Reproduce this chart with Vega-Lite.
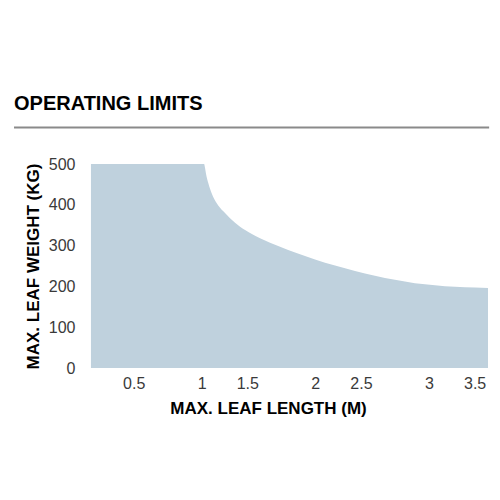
{
  "$schema": "https://vega.github.io/schema/vega-lite/v6.json",
  "description": "Operating limits: max leaf weight by max leaf length",
  "autosize": "none",
  "width": 400,
  "height": 204,
  "padding": {"left": 88, "top": 164, "right": 12, "bottom": 132},
  "background": "white",
  "view": {"stroke": null},
  "config": {
    "font": "Liberation Sans",
    "axis": {
      "grid": false,
      "domain": false,
      "ticks": false,
      "tickSize": 0,
      "labelFont": "Liberation Sans",
      "labelFontSize": 16,
      "labelColor": "#3a3a3a",
      "titleFont": "Liberation Sans",
      "titleFontSize": 17,
      "titleFontWeight": "bold",
      "titleColor": "#000000"
    }
  },
  "title": {
    "text": "OPERATING LIMITS",
    "anchor": "start",
    "frame": "group",
    "dx": -74,
    "offset": 12,
    "font": "Liberation Sans",
    "fontSize": 20,
    "fontWeight": "bold",
    "color": "#000000"
  },
  "layer": [
    {
      "data": {
        "values": [
          {"length": 0.026, "weight": 500},
          {"length": 0.5, "weight": 500},
          {"length": 1.0, "weight": 500},
          {"length": 1.022, "weight": 500},
          {"length": 1.03, "weight": 490},
          {"length": 1.038, "weight": 477},
          {"length": 1.059, "weight": 453},
          {"length": 1.089, "weight": 428},
          {"length": 1.133, "weight": 404},
          {"length": 1.162, "weight": 393},
          {"length": 1.191, "weight": 384},
          {"length": 1.25, "weight": 367},
          {"length": 1.338, "weight": 346},
          {"length": 1.426, "weight": 331},
          {"length": 1.514, "weight": 318},
          {"length": 1.602, "weight": 307},
          {"length": 1.69, "weight": 297},
          {"length": 1.822, "weight": 283},
          {"length": 1.998, "weight": 266},
          {"length": 2.174, "weight": 251},
          {"length": 2.35, "weight": 238},
          {"length": 2.525, "weight": 226},
          {"length": 2.701, "weight": 216},
          {"length": 2.877, "weight": 208},
          {"length": 3.053, "weight": 203},
          {"length": 3.23, "weight": 199},
          {"length": 3.406, "weight": 197},
          {"length": 3.52, "weight": 196}
        ]
      },
      "mark": {"type": "area", "color": "#bfd1dd", "interpolate": "monotone", "opacity": 1},
      "encoding": {
        "x": {
          "field": "length",
          "type": "quantitative",
          "title": "MAX. LEAF LENGTH (M)",
          "scale": {"domain": [0, 3.52], "nice": false, "zero": false},
          "axis": {
            "values": [0.5, 1, 1.5, 2, 2.5, 3, 3.5],
            "format": "~g",
            "labelPadding": 7,
            "labelBaseline": "top",
            "labelAlign": {"condition": {"test": "datum.value % 1 !== 0", "value": "right"}, "value": "center"},
            "labelFlush": false,
            "labelOverlap": false,
            "titleX": 180,
            "titlePadding": 9
          }
        },
        "y": {
          "field": "weight",
          "type": "quantitative",
          "title": "MAX. LEAF WEIGHT (KG)",
          "scale": {"domain": [0, 500], "nice": false},
          "axis": {
            "values": [0, 100, 200, 300, 400, 500],
            "labelPadding": 13,
            "labelFlush": false,
            "labelOverlap": false,
            "titlePadding": 6
          }
        }
      }
    },
    {
      "data": {"values": [{}]},
      "mark": {"type": "rule", "color": "#8a8a8a", "strokeWidth": 2, "clip": false},
      "encoding": {
        "x": {"datum": -0.651, "type": "quantitative"},
        "x2": {"datum": 3.53},
        "y": {"datum": 589.5, "type": "quantitative"}
      }
    }
  ]
}
